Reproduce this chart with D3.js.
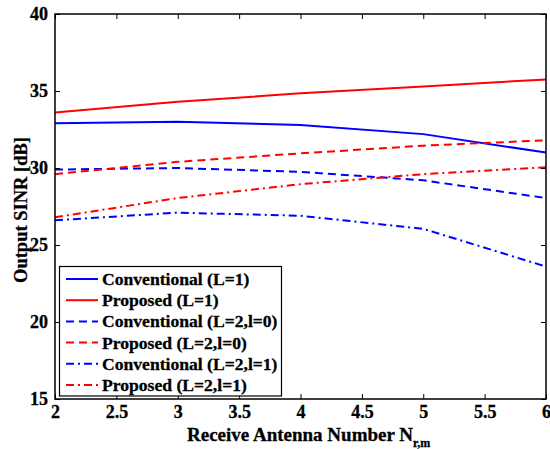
<!DOCTYPE html>
<html><head><meta charset="utf-8">
<script src="https://cdn.jsdelivr.net/npm/d3@7"></script>
<style>body{margin:0;background:#fff}svg{display:block}</style>
</head><body>
<svg id="c" width="550" height="449"></svg>
<script>
const xValues = [2, 3, 4, 5, 6];
const convL1 = [32.9, 33.0, 32.8, 32.2, 31.0];
const propL1 = [33.6, 34.3, 34.85, 35.3, 35.75];
const convL2l0 = [29.9, 30.0, 29.75, 29.2, 28.05];
const propL2l0 = [29.6, 30.4, 30.95, 31.45, 31.8];
const convL2l1 = [26.6, 27.1, 26.9, 26.05, 23.6];
const propL2l1 = [26.8, 28.05, 28.95, 29.6, 30.05];
const seriesNames = ["Conventional (L=1)", "Proposed (L=1)", "Conventional (L=2,l=0)", "Proposed (L=2,l=0)", "Conventional (L=2,l=1)", "Proposed (L=2,l=1)"];
const xTicks = [2, 2.5, 3, 3.5, 4, 4.5, 5, 5.5, 6];
const yTicks = [15, 20, 25, 30, 35, 40];

const series = [
  {name: seriesNames[0], values: convL1, color: "#0000ff", dash: null},
  {name: seriesNames[1], values: propL1, color: "#ff0000", dash: null},
  {name: seriesNames[2], values: convL2l0, color: "#0000ff", dash: "8,5"},
  {name: seriesNames[3], values: propL2l0, color: "#ff0000", dash: "8,5"},
  {name: seriesNames[4], values: convL2l1, color: "#0000ff", dash: "8,4,2,4"},
  {name: seriesNames[5], values: propL2l1, color: "#ff0000", dash: "8,4,2,4"}
];

const L = 55, R = 546, T = 14, B = 399;
const svg = d3.select("#c");
const x = d3.scaleLinear().domain([2, 6]).range([L, R]);
const y = d3.scaleLinear().domain([15, 40]).range([B, T]);
const font = "'Liberation Serif', 'Times New Roman', serif";

const line = d3.line().x((d, i) => x(xValues[i])).y(d => y(d));
series.forEach(s => {
  svg.append("path").datum(s.values)
    .attr("d", line).attr("fill", "none")
    .attr("stroke", s.color).attr("stroke-width", 2)
    .attr("stroke-dasharray", s.dash);
});

svg.append("rect").attr("x", L).attr("y", T).attr("width", R - L).attr("height", B - T)
  .attr("fill", "none").attr("stroke", "#000").attr("stroke-width", 1.5);

const ax = g => g.selectAll(".domain").remove();
svg.append("g").attr("transform", `translate(0,${B})`)
  .call(d3.axisBottom(x).tickValues(xTicks).tickSizeInner(-5).tickSizeOuter(0).tickPadding(6).tickFormat(d3.format("")))
  .call(ax);
svg.append("g").attr("transform", `translate(0,${T})`)
  .call(d3.axisTop(x).tickValues(xTicks).tickSizeInner(-5).tickSizeOuter(0).tickFormat(""))
  .call(ax);
svg.append("g").attr("transform", `translate(${L},0)`)
  .call(d3.axisLeft(y).tickValues(yTicks).tickSizeInner(-5).tickSizeOuter(0).tickPadding(7))
  .call(ax);
svg.append("g").attr("transform", `translate(${R},0)`)
  .call(d3.axisRight(y).tickValues(yTicks).tickSizeInner(-5).tickSizeOuter(0).tickFormat(""))
  .call(ax);
svg.selectAll(".tick line").attr("stroke", "#000").attr("stroke-width", 1);
svg.selectAll(".tick text").attr("font-family", font).attr("font-weight", "bold")
  .attr("font-size", 18).attr("fill", "#000").attr("stroke", "#000").attr("stroke-width", 0.3);

const xl = svg.append("text").attr("x", 187).attr("y", 441).attr("text-anchor", "start")
  .attr("font-family", font).attr("font-weight", "bold").attr("font-size", 19)
  .attr("stroke", "#000").attr("stroke-width", 0.3);
xl.append("tspan").text("Receive Antenna Number N");
xl.append("tspan").attr("dy", 6).attr("font-size", 12).text("r,m");
svg.append("text").attr("transform", "translate(27,210) rotate(-90)").attr("text-anchor", "middle")
  .attr("font-family", font).attr("font-weight", "bold").attr("font-size", 18.5)
  .attr("stroke", "#000").attr("stroke-width", 0.3).text("Output SINR [dB]");

const lg = svg.append("g");
lg.append("rect").attr("x", 59.5).attr("y", 266.5).attr("width", 222).attr("height", 129.5)
  .attr("fill", "#fff").attr("stroke", "#000").attr("stroke-width", 1.2);
series.forEach((s, i) => {
  const yy = 279 + i * 21.2;
  lg.append("line").attr("x1", 66).attr("x2", 98).attr("y1", yy).attr("y2", yy)
    .attr("stroke", s.color).attr("stroke-width", 2).attr("stroke-dasharray", s.dash);
  lg.append("text").attr("x", 102).attr("y", yy + 6).attr("font-family", font)
    .attr("font-weight", "bold").attr("font-size", 17.6)
    .attr("stroke", "#000").attr("stroke-width", 0.3).text(s.name);
});
</script>
</body></html>
